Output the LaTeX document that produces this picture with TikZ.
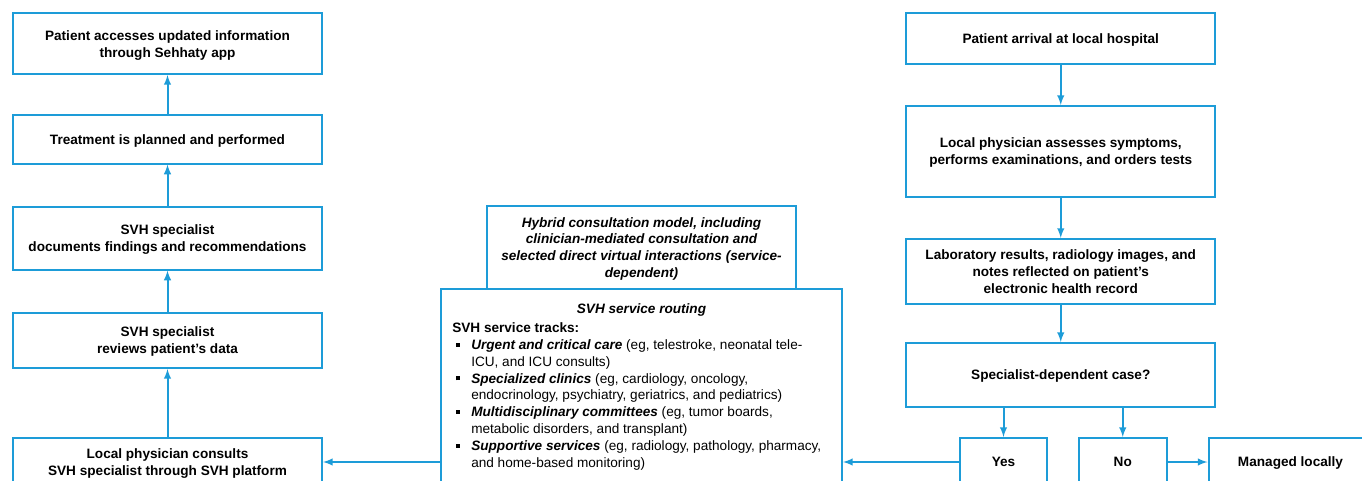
\documentclass[tikz,border=0pt]{standalone}
\usepackage{xcolor}
\usepackage{fontspec}
\setmainfont{Liberation Sans}
\definecolor{svhblue}{RGB}{29,156,216}
\newcommand{\trk}[1]{\hspace*{3pt}\rule[2pt]{3pt}{3pt}\hspace*{8.25pt}\textbf{\textit{#1}}}
\newcommand{\trkind}{\hspace*{14.25pt}}

\begin{document}
\begin{tikzpicture}[x=0.75pt, y=-0.75pt,
  box/.style={draw=svhblue, line width=1.5pt, rectangle, align=center,
    inner sep=0pt, text depth=-1pt, font=\fontsize{10.2}{12.7}\selectfont\bfseries},
  arr/.style={->, >=latex, draw=svhblue, line width=1.5pt}]
\useasboundingbox (0,0) rectangle (1362,481);
\clip (0,0) rectangle (1362,481);

% left column, read from bottom to top
\node[box, minimum width=231.75pt, minimum height=45.4pt] at (167.5,43.75) (pa) {Patient accesses updated information\\through Sehhaty app};
\node[box, minimum width=231.75pt, minimum height=36.4pt] at (167.5,139.25) (tp) {Treatment is planned and performed};
\node[box, minimum width=231.75pt, minimum height=46.9pt] at (167.5,238.25) (sd) {SVH specialist\\documents findings and recommendations};
\node[box, minimum width=231.75pt, minimum height=41.6pt] at (167.5,340.25) (sr) {SVH specialist\\reviews patient’s data};
\node[box, minimum width=231.75pt, minimum height=36pt] at (167.5,462) (lc) {Local physician consults\\SVH specialist through SVH platform};

% middle
\node[box, minimum width=231.75pt, minimum height=62.25pt, font=\fontsize{10.2}{12.7}\selectfont\bfseries\itshape] at (641.5,247.5) (hy) {Hybrid consultation model, including\\clinician-mediated consultation and\\selected direct virtual interactions (service-\\dependent)};
\node[box, minimum width=300.75pt, minimum height=158.25pt] at (641.5,394.5) (ro) {};
\node[font=\fontsize{10.2}{12.7}\selectfont\bfseries\itshape, inner sep=0pt] at (641.5,310) (rt) {SVH service routing};
\node[anchor=north west, align=left, inner sep=0pt, font=\fontsize{10.2}{12.6}\selectfont] at (452,322.5) (rl) {%
\textbf{SVH service tracks:}\\
\trk{Urgent and critical care} (eg, telestroke, neonatal tele-\\
\trkind ICU, and ICU consults)\\
\trk{Specialized clinics} (eg, cardiology, oncology,\\
\trkind endocrinology, psychiatry, geriatrics, and pediatrics)\\
\trk{Multidisciplinary committees} (eg, tumor boards,\\
\trkind metabolic disorders, and transplant)\\
\trk{Supportive services} (eg, radiology, pathology, pharmacy,\\
\trkind and home-based monitoring)};

% right column
\node[box, minimum width=232pt, minimum height=38.6pt] at (1060.75,38.75) (ar) {Patient arrival at local hospital};
\node[box, minimum width=232pt, minimum height=68.25pt] at (1060.75,151.5) (as) {Local physician assesses symptoms,\\performs examinations, and orders tests};
\node[box, minimum width=232pt, minimum height=48.4pt] at (1060.75,271.25) (lr) {Laboratory results, radiology images, and\\notes reflected on patient’s\\electronic health record};
\node[box, minimum width=232pt, minimum height=48pt] at (1060.75,375) (sc) {Specialist-dependent case?};
\node[box, minimum width=65.25pt, minimum height=36pt] at (1003.5,462) (ye) {Yes};
\node[box, minimum width=65.6pt, minimum height=36pt] at (1122.75,462) (no) {No};
\node[box, minimum width=123pt, minimum height=36pt] at (1290.5,462) (ml) {Managed locally};

\draw[arr] (ar) -- (as);
\draw[arr] (as) -- (lr);
\draw[arr] (lr) -- (sc);
\draw[arr] (sc.south -| ye) -- (ye);
\draw[arr] (sc.south -| no) -- (no);
\draw[arr] (no) -- (ml);
\draw[arr] (ye) -- (ye -| ro.east);
\draw[arr] (ro.west |- lc) -- (lc);
\draw[arr] (lc) -- (sr);
\draw[arr] (sr) -- (sd);
\draw[arr] (sd) -- (tp);
\draw[arr] (tp) -- (pa);

\end{tikzpicture}
\end{document}
